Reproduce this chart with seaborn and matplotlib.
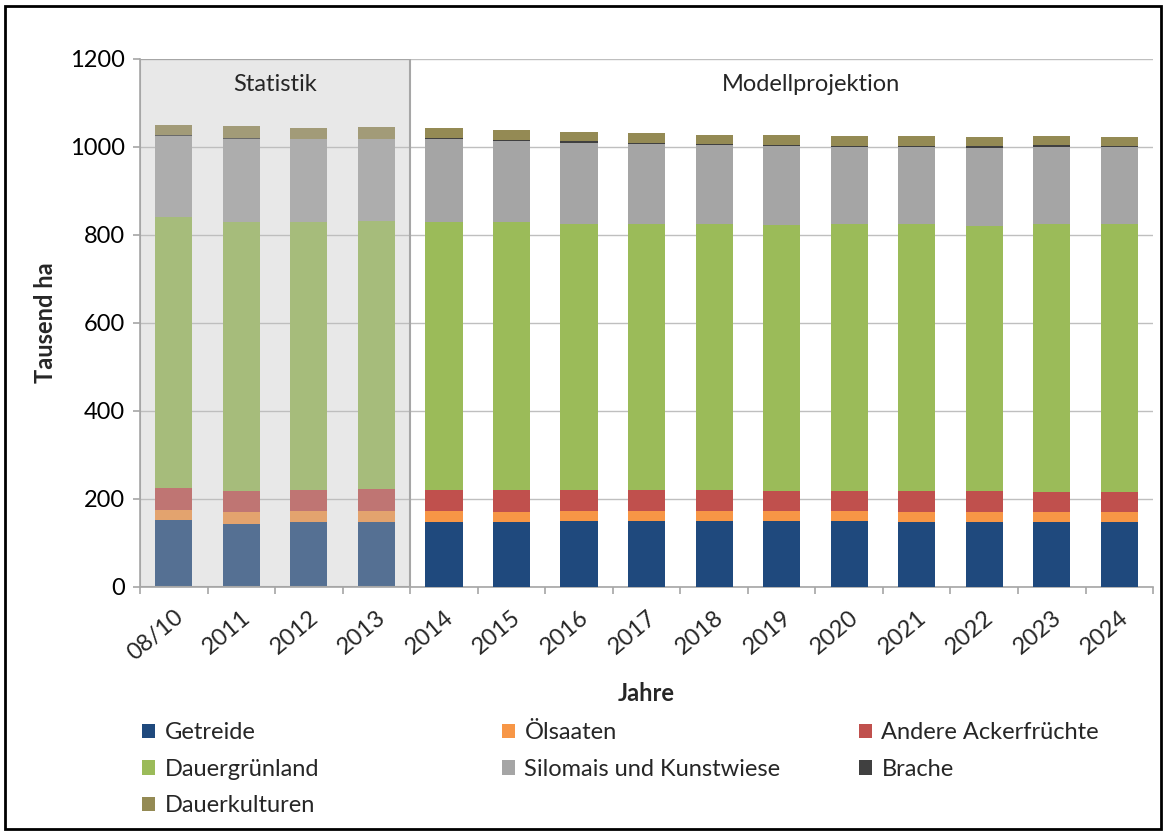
import numpy as np
import pandas as pd
import matplotlib
matplotlib.use("Agg")
import matplotlib.pyplot as plt
from matplotlib.patches import Patch, Rectangle
import seaborn as sns

# Flächennutzung in Tausend ha
years = ["08/10", "2011", "2012", "2013", "2014", "2015", "2016", "2017",
         "2018", "2019", "2020", "2021", "2022", "2023", "2024"]
getreide = [152, 144, 147, 147, 147, 147, 149, 149, 149, 149, 149, 147, 147, 147, 147]
oelsaaten = [24, 26, 25, 25, 25, 23, 23, 23, 23, 23, 23, 23, 23, 23, 24]
andere = [50, 49, 49, 50, 49, 51, 49, 49, 49, 47, 47, 49, 49, 46, 45]
gruenland = [614, 611, 608, 610, 609, 609, 605, 605, 603, 603, 605, 605, 602, 608, 608]
silomais = [185, 189, 188, 185, 187, 183, 184, 181, 181, 181, 177, 177, 177, 177, 176]
brache = [2, 2, 2, 2, 4, 3, 3, 3, 2, 2, 2, 2, 5, 4, 2]
dauerkulturen = [24, 27, 25, 26, 21, 22, 21, 22, 21, 23, 21, 22, 19, 19, 20]

series_names = ["Getreide", "Ölsaaten", "Andere Ackerfrüchte", "Dauergrünland",
                "Silomais und Kunstwiese", "Brache", "Dauerkulturen"]
series_values = [getreide, oelsaaten, andere, gruenland, silomais, brache, dauerkulturen]
colors = ["#1F497D", "#F79646", "#C0504D", "#9BBB59", "#A5A5A5", "#404040", "#948A54"]

n_stat = 4  # Jahre aus der Statistik
FS = 17

sns.set_style("white")
plt.rcParams["font.family"] = ["Lato", "DejaVu Sans"]

fig = plt.figure(figsize=(11.66, 8.34), dpi=100)
ax = fig.add_axes([0.1201, 0.2962, 0.8688, 0.6331])

df = pd.DataFrame({"Jahr": years})
for name, vals in zip(series_names, series_values):
    df[name] = vals
cum = df[series_names].cumsum(axis=1)

# gestapelte Balken: kumulierte Summen von oben nach unten zeichnen
for name, col in reversed(list(zip(series_names, colors))):
    sns.barplot(x=df["Jahr"], y=cum[name], color=col, saturation=1,
                width=0.55, linewidth=0, ax=ax, zorder=3)

ax.set_xlim(-0.5, len(years) - 0.5)
ax.set_ylim(0, 1200)
ax.set_yticks(np.arange(0, 1201, 200))
ax.yaxis.grid(True, color="#BFBFBF", linewidth=1.0, zorder=0)
ax.set_axisbelow(True)

for s in ["top", "right"]:
    ax.spines[s].set_visible(False)
for s in ["left", "bottom"]:
    ax.spines[s].set_color("#A6A6A6")
    ax.spines[s].set_linewidth(1.2)

ax.tick_params(axis="y", length=5, color="#A6A6A6", width=1.2, pad=6,
               labelsize=FS, labelcolor="#000000", left=True)
ax.set_xticks(np.arange(-0.5, len(years)), minor=True)
ax.tick_params(axis="x", which="minor", length=5, color="#A6A6A6", width=1.2, bottom=True)
ax.tick_params(axis="x", which="major", length=0, pad=14, labelsize=FS)
for lab in ax.get_xticklabels():
    lab.set_rotation(40)
    lab.set_ha("right")
    lab.set_va("top")
    lab.set_rotation_mode("anchor")

ax.set_xlabel("Jahre", fontsize=FS, fontweight="bold")
ax.xaxis.set_label_coords(0.5, -0.18)
ax.set_ylabel("Tausend ha", fontsize=FS, fontweight="bold")
ax.yaxis.set_label_coords(-0.082, 0.5)

# Statistik-Bereich hervorheben
ax.add_patch(Rectangle((-0.5, 0), n_stat, 1200, facecolor="#BEBEBE", alpha=0.34,
                       edgecolor="none", zorder=4))
ax.add_patch(Rectangle((-0.5, 0), n_stat, 1200, facecolor="none",
                       edgecolor="#A6A6A6", linewidth=1.5, zorder=5))
ax.text((n_stat - 1) / 2, 1143, "Statistik", ha="center", va="center",
        fontsize=FS, color="#262626", zorder=6)
ax.text(9.43, 1143, "Modellprojektion", ha="center", va="center",
        fontsize=FS, color="#262626", zorder=6)

# Legende in drei Spalten
handles = [Patch(facecolor=c, edgecolor="none") for c in colors]
columns = [[0, 3, 6], [1, 4], [2, 5]]
col_x = [0.1218, 0.4305, 0.7367]
for cx, idx in zip(col_x, columns):
    fig.legend([handles[i] for i in idx], [series_names[i] for i in idx],
               loc="upper left", bbox_to_anchor=(cx, 0.134),
               bbox_transform=fig.transFigure, frameon=False,
               fontsize=FS, handlelength=0.55, handleheight=0.55,
               handletextpad=0.4, labelspacing=0.66, borderpad=0,
               borderaxespad=0)

# Rahmen um die Grafik
fig.patches.append(Rectangle((5 / 1166, 5 / 834), 1156 / 1166, 823 / 834,
                             transform=fig.transFigure, fill=False,
                             edgecolor="black", linewidth=2))

fig.savefig("out.png", dpi=100)
